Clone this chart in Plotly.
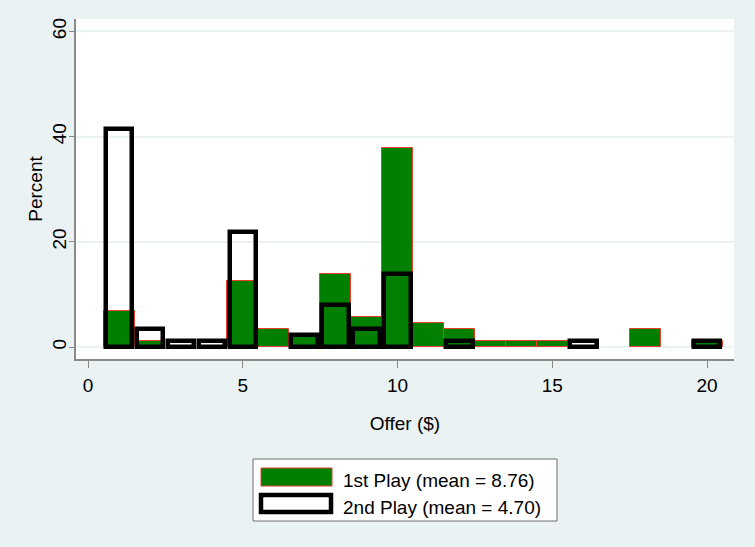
import plotly.graph_objects as go

# Offer bins (dollars) and percent of players in each bin
offers = list(range(1, 21))
first_play_pct = [6.90, 1.15, 0, 0, 12.64, 3.45, 2.30, 13.79, 5.75, 37.93,
                  4.60, 3.45, 1.15, 1.15, 1.15, 0, 0, 3.45, 0, 1.15]
second_play_pct = [41.38, 3.45, 1.15, 1.15, 21.84, 0, 2.30, 8.05, 3.45, 13.79,
                   0, 1.15, 0, 0, 0, 1.15, 0, 0, 0, 1.15]
series_names = ["1st Play (mean = 8.76)", "2nd Play (mean = 4.70)"]
x_ticks = [0, 5, 10, 15, 20]
y_ticks = [0, 20, 40, 60]

BG = "#EAF2F3"
GREEN = "#007F00"
RED = "#E8402F"
AXIS = "#8A8A8A"
FONT = "Liberation Sans, Arial, sans-serif"
FS = 19

x1 = [o for o, v in zip(offers, first_play_pct) if v > 0]
y1 = [v for v in first_play_pct if v > 0]
x2 = [o for o, v in zip(offers, second_play_pct) if v > 0]
y2 = [v for v in second_play_pct if v > 0]

fig = go.Figure()
fig.add_trace(go.Bar(
    x=x1, y=y1, width=1, name=series_names[0],
    marker=dict(color=GREEN, line=dict(color=RED, width=1)),
))
fig.add_trace(go.Bar(
    x=x2, y=y2, width=0.86, name=series_names[1],
    marker=dict(color="rgba(0,0,0,0)", line=dict(color="black", width=4.5)),
))

fig.update_layout(
    width=755, height=547,
    margin=dict(l=76, r=21, t=19, b=188),
    paper_bgcolor=BG, plot_bgcolor="white",
    barmode="overlay", bargap=0,
    showlegend=False,
    font=dict(family=FONT, color="black", size=FS),
)
fig.update_xaxes(
    range=[-0.39, 20.87], tickvals=x_ticks, ticks="outside", ticklen=7,
    tickcolor=AXIS, showline=True, linecolor=AXIS, linewidth=1.5,
    showgrid=False, zeroline=False, tickfont=dict(size=FS),
    ticklabelstandoff=1,
    title=dict(text="Offer ($)", font=dict(size=FS), standoff=22),
)
fig.update_yaxes(
    range=[-2.28, 62.36], tickvals=y_ticks, ticks="outside", ticklen=5,
    tickcolor=AXIS, showline=True, linecolor=AXIS, linewidth=1.5,
    showgrid=True, gridcolor=BG, gridwidth=1.5, zeroline=False,
    tickangle=-90, tickfont=dict(size=FS), ticklabelstandoff=-4,
    title=dict(text="Percent", font=dict(size=FS), standoff=1),
)

# Legend box drawn in pixel-based paper coordinates
pl, pr, pt, pb = 76, 755 - 21, 19, 547 - 188
def px(x):
    return (x - pl) / (pr - pl)
def py(y):
    return (pb - y) / (pb - pt)

fig.add_shape(type="rect", xref="paper", yref="paper",
              x0=px(253), x1=px(557), y0=py(459), y1=py(521),
              fillcolor="white", line=dict(color="#6E6E6E", width=1), layer="above")
fig.add_shape(type="rect", xref="paper", yref="paper",
              x0=px(261), x1=px(332), y0=py(468), y1=py(486),
              fillcolor=GREEN, line=dict(color=RED, width=1), layer="above")
fig.add_shape(type="rect", xref="paper", yref="paper",
              x0=px(261), x1=px(331), y0=py(495), y1=py(512),
              fillcolor="white", line=dict(color="black", width=4.5), layer="above")
for name, yc in zip(series_names, [480, 507]):
    fig.add_annotation(xref="paper", yref="paper", x=px(341), y=py(yc),
                       text=name, showarrow=False, xanchor="left", yanchor="middle",
                       font=dict(size=FS, family=FONT, color="black"))

fig.write_html("out.html")
